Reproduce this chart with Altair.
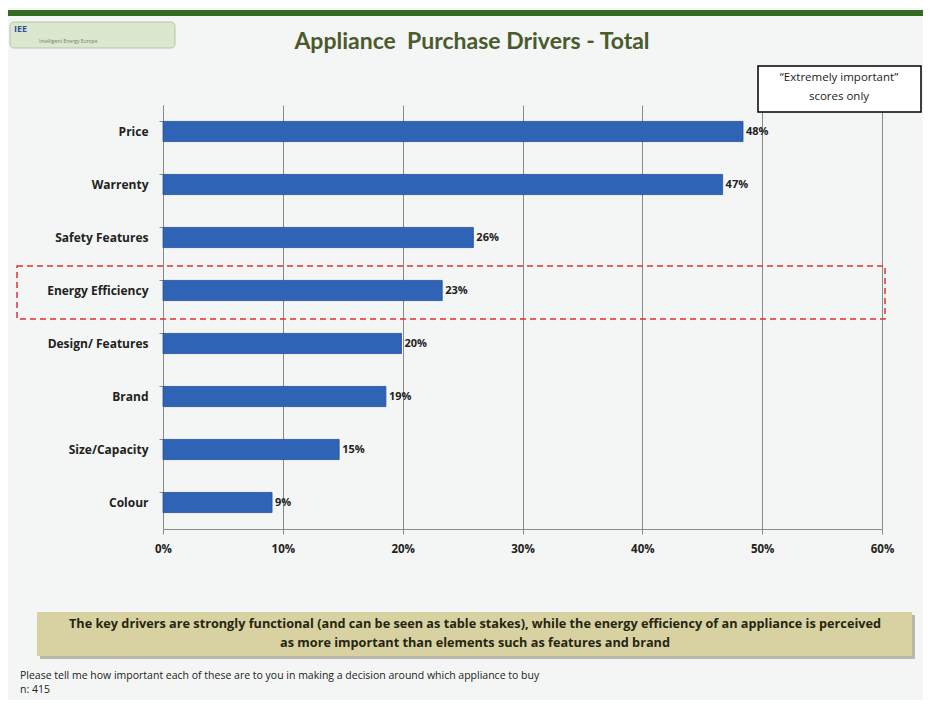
import altair as alt
import pandas as pd

# ---- data ----
categories = ["Price", "Warrenty", "Safety Features", "Energy Efficiency",
              "Design/ Features", "Brand", "Size/Capacity", "Colour"]
values = [48.4, 46.7, 25.9, 23.3, 19.9, 18.6, 14.7, 9.1]
labels = ["48%", "47%", "26%", "23%", "20%", "19%", "15%", "9%"]
x_ticks = [0, 10, 20, 30, 40, 50, 60]

title_text = "Appliance\u00a0 Purchase Drivers - Total"
box_lines = ["\u201cExtremely important\u201d", "scores only"]
note_lines = [
    "The key drivers are strongly functional (and can be seen as table stakes), while the energy efficiency of an appliance is perceived",
    "as more important than elements such as features and brand",
]
foot_lines = [
    "Please tell me how important each of these are to you in making a decision around which appliance to buy",
    "n: 415",
]

df = pd.DataFrame({"cat": categories, "val": values, "lab": labels})

FONT = "Open Sans"
W, H = 719, 424
one = alt.Data(values=[{}])

x_enc = alt.X("val:Q", scale=alt.Scale(domain=[0, 60], nice=False),
              axis=alt.Axis(values=x_ticks, labelExpr="datum.value + '%'", title=None,
                            grid=True, gridColor="#8a8a8a", gridWidth=1, labelFlush=False,
                            domainColor="#8a8a8a", tickColor="#8a8a8a", tickSize=5,
                            labelFont=FONT, labelFontSize=11.5, labelFontWeight="bold",
                            labelColor="#222222", labelPadding=9))
y_enc = alt.Y("cat:N", sort=categories,
              scale=alt.Scale(paddingInner=0.62, paddingOuter=0.31),
              axis=alt.Axis(title=None, domainColor="#8a8a8a", tickColor="#8a8a8a",
                            tickSize=4, bandPosition=0, labelPadding=11,
                            labelFont=FONT, labelFontSize=12, labelFontWeight="bold",
                            labelColor="#222222"))


def rect(x, x2, y, y2, **kw):
    return alt.Chart(one).mark_rect(**kw).encode(
        x=alt.value(x), x2=alt.value(x2), y=alt.value(y), y2=alt.value(y2))


def text(t, x, y, **kw):
    kw.setdefault("font", FONT)
    return alt.Chart(one).mark_text(**kw).encode(
        x=alt.value(x), y=alt.value(y), text=alt.value(t))


# decorations (pixel offsets relative to plot area)
top_bar = rect(-160, 770, -95, -89, color="#336b22")
logo = rect(-153, 12, -83, -57, fill="#dbe7cf", stroke="#b5c6a5", strokeWidth=1, cornerRadius=4)
logo_t = text("IEE", -149, -76, align="left", fontSize=9, fontWeight="bold", color="#2d4f9e")
logo_t2 = text("Intelligent Energy Europe", -124, -64, align="left", fontSize=5, color="#6f7f66")
title = text(title_text, 309, -63, font="Lato", fontSize=23, fontWeight="bold", color="#4b5a2c")

box = rect(595, 758, -39, 7, fill="white", stroke="black", strokeWidth=1.5)
box_t1 = text(box_lines[0], 676, -27, fontSize=11.5, color="#222222")
box_t2 = text(box_lines[1], 676, -8, fontSize=11.5, color="#222222")

note_shadow = rect(-123, 752, 510, 554, color="#b9b7a8")
note = rect(-126, 749, 507, 551, color="#d8d2a2")
note_t1 = text(note_lines[0], 312, 519, fontSize=12.7, fontWeight="bold", color="#262610")
note_t2 = text(note_lines[1], 312, 538, fontSize=12.7, fontWeight="bold", color="#262610")

foot_t1 = text(foot_lines[0], -143, 571, align="left", fontSize=10.5, color="#222222")
foot_t2 = text(foot_lines[1], -143, 585, align="left", fontSize=10.5, color="#222222")

dashed = alt.Chart(one).mark_rect(filled=False, stroke="#e03232", strokeWidth=1.5,
                                  strokeDash=[6, 4]).encode(
    x=alt.value(-146), x2=alt.value(722), y=alt.value(161), y2=alt.value(214))

base = alt.Chart(df)
bars = base.mark_bar(color="#2f63b6", stroke="#244f94", strokeWidth=0.8).encode(x=x_enc, y=y_enc)
bar_labels = base.mark_text(align="left", dx=3, font=FONT, fontSize=11,
                            fontWeight="bold", color="#222222").encode(
    x=alt.X("val:Q"), y=alt.Y("cat:N", sort=categories), text="lab:N")

chart = alt.layer(
    top_bar, logo, logo_t, logo_t2, title, note_shadow, note, note_t1, note_t2,
    foot_t1, foot_t2, bars, bar_labels, dashed, box, box_t1, box_t2
).properties(
    width=W, height=H,
    padding={"left": 155, "top": 97, "right": 41, "bottom": 171},
    autosize=alt.AutoSizeParams(type="none"),
    background="#f3f6f4",
).configure_view(stroke=None)

chart.save("out.html", embed_options={"renderer": "svg", "actions": False})
